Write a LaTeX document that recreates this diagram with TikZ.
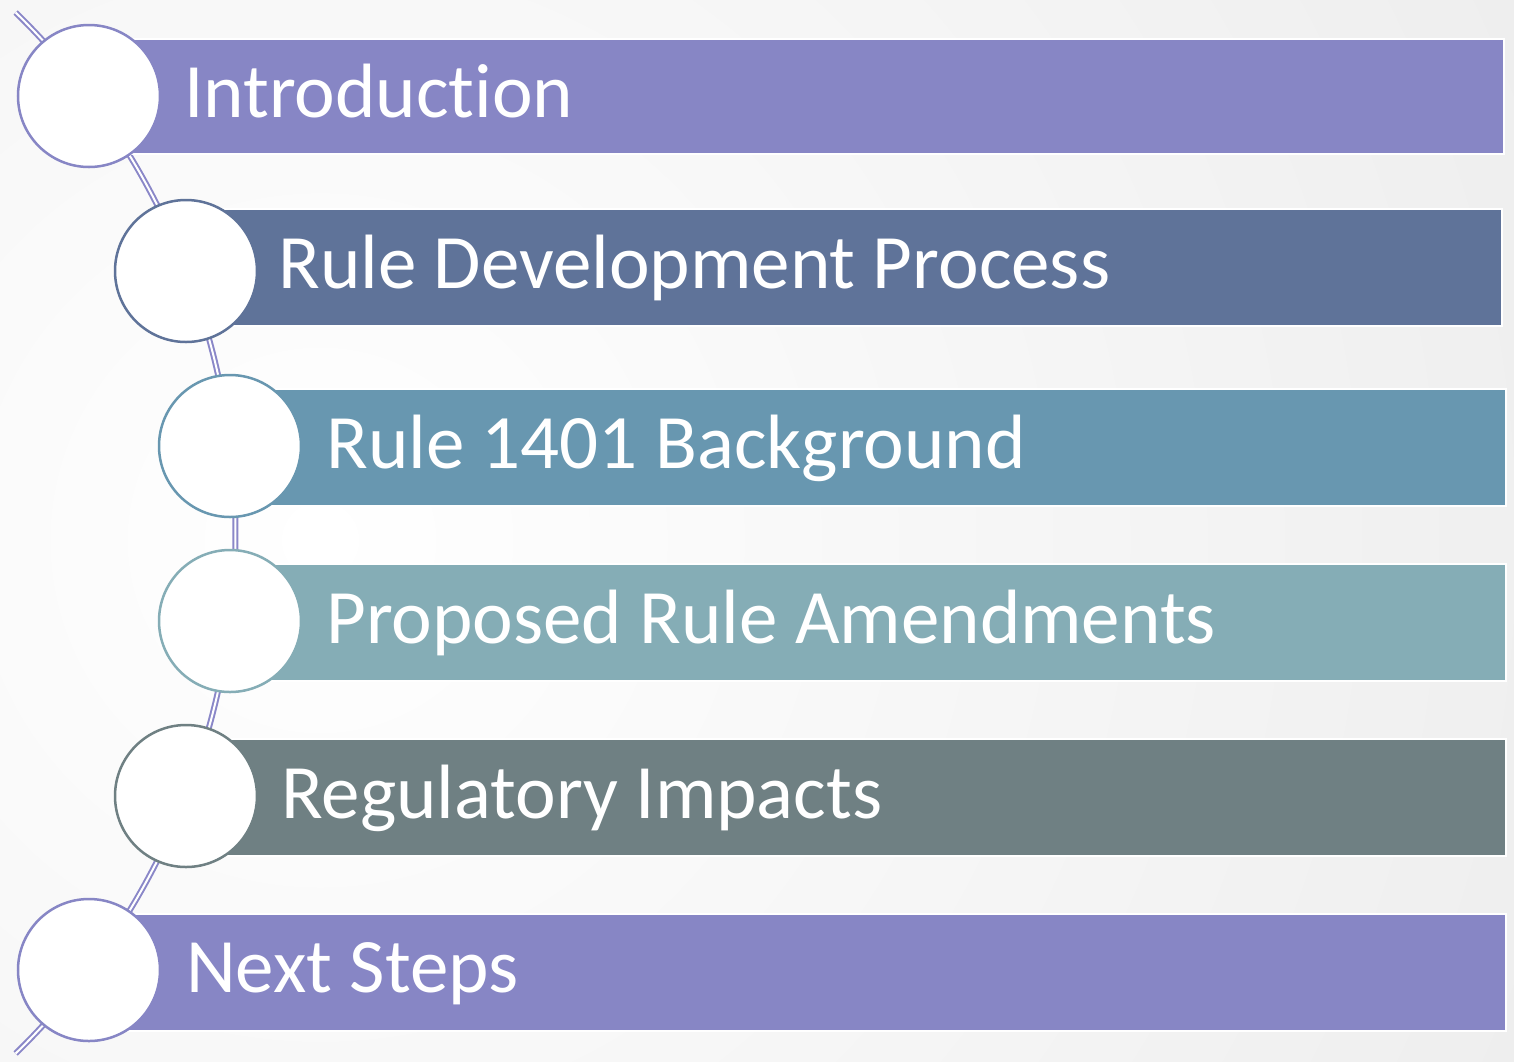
\documentclass[tikz,border=0pt]{standalone}
\usepackage{fontspec}
\setmainfont[Ligatures={NoCommon,NoRare},RawFeature={-liga;-dlig}]{Carlito}
\definecolor{cA}{HTML}{8786C5}
\definecolor{cB}{HTML}{5F7399}
\definecolor{cC}{HTML}{6897B0}
\definecolor{cD}{HTML}{85ADB6}
\definecolor{cE}{HTML}{6F8083}
\definecolor{bggray}{HTML}{DCDCDC}
\definecolor{linec}{HTML}{8A87C8}
\tikzset{
  bar/.style={rectangle, draw=white, line width=2pt, fill=#1, anchor=north west, inner sep=0pt},
  disc/.style={circle, draw=#1, line width=2.5pt, fill=white, minimum size=142pt, inner sep=0pt},
  label text/.style={anchor=base west, text=white, font=\fontsize{77}{90}\selectfont, inner sep=0pt},
  spine/.style={draw=linec, double=white, double distance=2pt, line width=2pt}
}
\begin{document}
\begin{tikzpicture}[x=1pt, y=-1pt]
\useasboundingbox (0,0) rectangle (1514,1061);
\begin{scope}
\clip (0,0) rectangle (1514,1061);
\fill[inner color=white, outer color=bggray] (320,540) circle[radius=2700];
\end{scope}
% spine arc
\coordinate (top) at ({-490.5+726*cos(45.8)},{533-726*sin(45.8)});
\draw[spine] (top) arc[start angle=-45.8, end angle=45.8, radius=726];
% bars
\node[bar=cA, minimum width=1414pt, minimum height=115pt] (b1) at (89,38) {};
\node[bar=cB, minimum width=1315pt, minimum height=117pt] (b2) at (186,208) {};
\node[bar=cC, minimum width=1275pt, minimum height=117pt] (b3) at (230,388) {};
\node[bar=cD, minimum width=1275pt, minimum height=117pt] (b4) at (230,563) {};
\node[bar=cE, minimum width=1319pt, minimum height=117pt] (b5) at (186,738) {};
\node[bar=cA, minimum width=1416pt, minimum height=117pt] (b6) at (89,913) {};
% circles
\node[disc=cA] (c1) at (89,96) {};
\node[disc=cB] (c2) at (186,271) {};
\node[disc=cC] (c3) at (230,446) {};
\node[disc=cD] (c4) at (230,621) {};
\node[disc=cE] (c5) at (186,796) {};
\node[disc=cA] (c6) at (89,970) {};
% texts
\node[label text] (t1) at (184,117) {Introduction};
\node[label text] (t2) at (278,288) {Rule Development Process};
\node[label text] (t3) at (326,468) {Rule 1401 Background};
\node[label text] (t4) at (326,643) {Proposed Rule Amendments};
\node[label text] (t5) at (281,818) {Regulatory Impacts};
\node[label text] (t6) at (186,992) {Next Steps};
\end{tikzpicture}
\end{document}
